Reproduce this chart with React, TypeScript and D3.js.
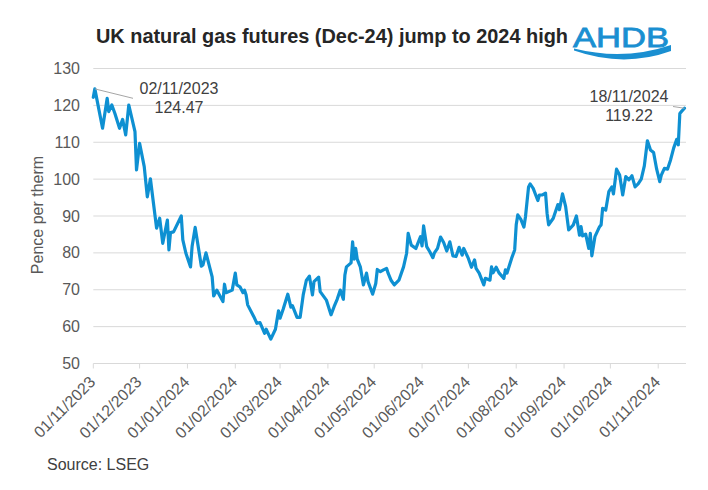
import React from "react";
import * as d3 from "d3";

const dates: string[] = [
  "2023-11-01","2023-11-02","2023-11-07","2023-11-10","2023-11-11","2023-11-13","2023-11-15","2023-11-18","2023-11-20","2023-11-22",
  "2023-11-24","2023-11-28","2023-11-29","2023-12-01","2023-12-04","2023-12-06","2023-12-08","2023-12-10","2023-12-12","2023-12-14",
  "2023-12-16","2023-12-19","2023-12-20","2023-12-21","2023-12-23","2023-12-28","2023-12-29","2023-12-31","2024-01-03","2024-01-04",
  "2024-01-06","2024-01-10","2024-01-11","2024-01-13","2024-01-17","2024-01-18","2024-01-20","2024-01-24","2024-01-25","2024-01-26",
  "2024-01-30","2024-02-01","2024-02-02","2024-02-04","2024-02-06","2024-02-07","2024-02-08","2024-02-09","2024-02-13","2024-02-15",
  "2024-02-17","2024-02-20","2024-02-21","2024-02-24","2024-02-27","2024-02-29","2024-03-01","2024-03-03","2024-03-06","2024-03-08",
  "2024-03-09","2024-03-12","2024-03-14","2024-03-16","2024-03-18","2024-03-20","2024-03-22","2024-03-23","2024-03-26","2024-03-27",
  "2024-03-31","2024-04-03","2024-04-05","2024-04-07","2024-04-09","2024-04-11","2024-04-12","2024-04-13","2024-04-16","2024-04-17",
  "2024-04-18","2024-04-19","2024-04-20","2024-04-22","2024-04-24","2024-04-26","2024-04-27","2024-04-30","2024-05-02","2024-05-03",
  "2024-05-05","2024-05-07","2024-05-09","2024-05-10","2024-05-12","2024-05-14","2024-05-17","2024-05-20","2024-05-22","2024-05-23",
  "2024-05-25","2024-05-28","2024-05-31","2024-06-01","2024-06-02","2024-06-04","2024-06-06","2024-06-08","2024-06-09","2024-06-11",
  "2024-06-13","2024-06-15","2024-06-17","2024-06-19","2024-06-21","2024-06-23","2024-06-25","2024-06-27","2024-06-28","2024-07-01",
  "2024-07-03","2024-07-05","2024-07-06","2024-07-08","2024-07-11","2024-07-12","2024-07-15","2024-07-16","2024-07-17","2024-07-19",
  "2024-07-21","2024-07-24","2024-07-25","2024-07-26","2024-07-29","2024-07-31","2024-08-01","2024-08-02","2024-08-04","2024-08-06",
  "2024-08-07","2024-08-09","2024-08-10","2024-08-12","2024-08-15","2024-08-16","2024-08-18","2024-08-20","2024-08-21","2024-08-22",
  "2024-08-25","2024-08-28","2024-08-29","2024-08-31","2024-09-02","2024-09-04","2024-09-07","2024-09-09","2024-09-11","2024-09-12",
  "2024-09-13","2024-09-15","2024-09-17","2024-09-18","2024-09-19","2024-09-21","2024-09-24","2024-09-25","2024-09-26","2024-09-28",
  "2024-09-30","2024-10-02","2024-10-03","2024-10-05","2024-10-07","2024-10-09","2024-10-11","2024-10-13","2024-10-15","2024-10-17",
  "2024-10-19","2024-10-21","2024-10-23","2024-10-25","2024-10-27","2024-10-29","2024-10-31","2024-11-02","2024-11-03","2024-11-05",
  "2024-11-07","2024-11-09","2024-11-11","2024-11-13","2024-11-14","2024-11-15","2024-11-16","2024-11-18"
];

const prices: number[] = [
  122.2,124.47,113.8,121.9,118.3,120.1,117.8,113.8,116.2,112.0,
  120.1,112.9,102.5,109.7,103.4,95.2,100.1,93.4,86.7,89.4,
  82.6,88.9,80.8,85.5,85.7,90.0,83.5,79.9,76.2,81.7,
  86.9,76.4,76.7,80.0,73.5,68.3,69.9,66.8,71.5,69.2,
  69.9,74.5,71.3,70.8,69.2,69.9,68.6,65.9,62.7,60.9,
  61.1,58.2,59.3,56.6,59.3,64.3,62.3,64.7,68.8,65.3,
  65.7,62.5,62.5,68.6,72.5,73.7,68.6,72.2,73.4,69.5,
  67.2,63.2,65.4,67.4,69.9,67.4,74.0,76.2,77.3,83.0,
  78.3,81.2,78.3,76.2,71.3,74.5,72.2,68.8,71.7,75.5,
  74.9,75.4,75.8,74.5,72.5,71.3,72.6,76.2,79.9,85.3,
  82.1,81.2,84.4,81.9,87.3,81.7,80.3,78.7,80.0,81.2,
  84.3,82.8,80.5,83.0,79.2,79.0,81.5,79.4,81.2,78.5,
  76.1,78.1,75.8,74.5,71.3,73.1,72.6,76.2,74.6,76.1,
  74.5,73.1,75.4,74.5,78.5,80.8,87.6,90.3,89.1,87.0,
  89.8,97.9,98.7,97.5,94.2,95.7,95.7,96.2,90.7,87.6,
  89.4,93.1,91.7,96.0,92.6,86.2,87.6,90.0,84.8,87.1,
  84.6,85.1,81.2,85.3,79.2,84.4,87.1,87.6,92.1,91.6,
  96.6,97.9,96.0,102.7,101.1,95.7,100.7,99.8,100.9,97.9,
  98.7,100.0,103.6,110.4,107.9,107.2,102.7,99.3,101.1,102.9,
  102.7,105.2,108.4,110.8,109.3,117.8,118.3,119.22
];

const yTicks: number[] = [50, 60, 70, 80, 90, 100, 110, 120, 130];
const xTickDates: string[] = [
  "2023-11-01","2023-12-01","2024-01-01","2024-02-01","2024-03-01","2024-04-01","2024-05-01",
  "2024-06-01","2024-07-01","2024-08-01","2024-09-01","2024-10-01","2024-11-01"
];

const title = "UK natural gas futures (Dec-24) jump to 2024 high";
const yLabel = "Pence per therm";
const source = "Source: LSEG";
const annFirst = { date: "2023-11-02", value: 124.47, label: "02/11/2023" };
const annLast = { date: "2024-11-18", value: 119.22, label: "18/11/2024" };

const parse = d3.timeParse("%Y-%m-%d");
const fmt = d3.timeFormat("%d/%m/%Y");

export default function App() {
  const W = 708, H = 490;
  const x = d3.scaleTime().domain([parse("2023-11-01")!, parse("2024-11-19")!]).range([93.3, 686]);
  const y = d3.scaleLinear().domain([50, 130]).range([363.5, 68.5]);
  const data = dates.map((d, i) => ({ date: parse(d)!, v: prices[i] }));
  const line = d3.line<{ date: Date; v: number }>().x(d => x(d.date)).y(d => y(d.v));
  const font = "'Liberation Sans', Arial, sans-serif";
  const grey = "#595959";
  const blue = "#1a8fd1";

  const a1x = x(parse(annFirst.date)!), a1y = y(annFirst.value);
  const a2x = x(parse(annLast.date)!), a2y = y(annLast.value);

  return (
    <svg width={W} height={H} style={{ position: "absolute", left: 0, top: 0, background: "#fff" }} fontFamily={font}>
      <rect width={W} height={H} fill="#fff" />
      <text x={96} y={43} fontSize={20} fontWeight="bold" fill="#262626"
        fontFamily="'Liberation Sans Narrow', 'Liberation Sans', Arial, sans-serif"
        textLength={472} lengthAdjust="spacingAndGlyphs">{title}</text>
      {/* logo */}
      <text x={573} y={46.5} fontSize={28} fill={blue} stroke={blue} strokeWidth={0.8}
        textLength={96} lengthAdjust="spacingAndGlyphs">AHDB</text>
      <path d="M574,48.5 Q624,61 671,45 L671,51 Q624,68 574,50.5 Z" fill={blue} />

      {/* gridlines */}
      {yTicks.map(t => (
        <line key={t} x1={93.3} x2={686} y1={y(t)} y2={y(t)} stroke="#d9d9d9" strokeWidth={1} />
      ))}
      {yTicks.map(t => (
        <text key={"l" + t} x={80} y={y(t)} dy="0.35em" textAnchor="end" fontSize={16} fill={grey}>{t}</text>
      ))}
      {xTickDates.map(s => {
        const tx = x(parse(s)!);
        return (
          <g key={s}>
            <line x1={tx} x2={tx} y1={y(50)} y2={y(50) + 5} stroke="#d9d9d9" />
            <text transform={`translate(${tx + 3},${383}) rotate(-45)`} textAnchor="end" fontSize={16} fill={grey}>
              {fmt(parse(s)!)}
            </text>
          </g>
        );
      })}
      <text transform="translate(43,215) rotate(-90)" textAnchor="middle" fontSize={16} fill={grey}>{yLabel}</text>

      <path d={line(data) || ""} fill="none" stroke="#0e90d2" strokeWidth={3.2} strokeLinejoin="round" strokeLinecap="round" />

      {/* annotations */}
      <line x1={a1x} y1={a1y} x2={133} y2={98.3} stroke="#a6a6a6" strokeWidth={1} />
      <text x={179} y={94} textAnchor="middle" fontSize={16} fill="#404040">{annFirst.label}</text>
      <text x={179} y={113} textAnchor="middle" fontSize={16} fill="#404040">{annFirst.value.toFixed(2)}</text>
      <line x1={673} y1={106.5} x2={a2x} y2={a2y} stroke="#a6a6a6" strokeWidth={1} />
      <text x={629} y={101.7} textAnchor="middle" fontSize={16} fill="#404040">{annLast.label}</text>
      <text x={629} y={121} textAnchor="middle" fontSize={16} fill="#404040">{annLast.value.toFixed(2)}</text>

      <text x={47} y={470} fontSize={16} fill="#404040">{source}</text>
    </svg>
  );
}
